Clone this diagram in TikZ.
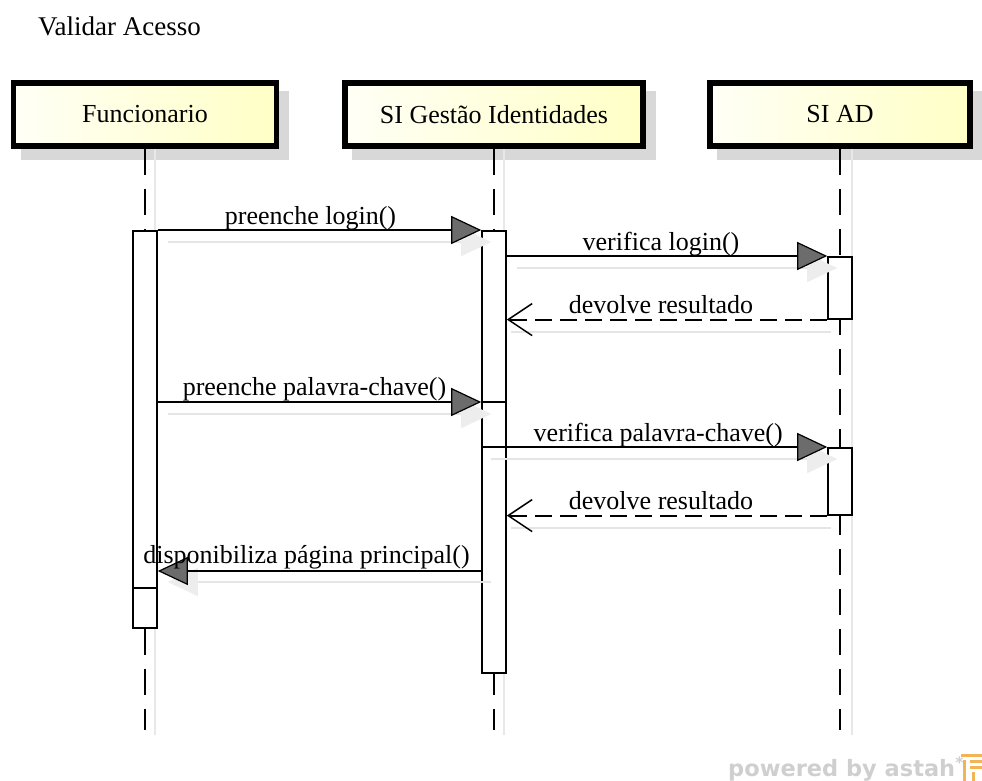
\documentclass[tikz,border=0pt]{standalone}
\usepackage{fontspec}
\setmainfont{Liberation Serif}
\newfontfamily\brandfont{DejaVu Sans}
\usetikzlibrary{arrows.meta}
\pgfdeclarelayer{bg}
\pgfsetlayers{bg,main}
\definecolor{boxleft}{HTML}{FFFFF6}
\definecolor{boxright}{HTML}{FFFFC6}
\definecolor{boxshade}{HTML}{D8D8D8}
\definecolor{tipgray}{HTML}{6C6C6C}
\definecolor{logoorange}{HTML}{F2B457}
\begin{document}
\begin{tikzpicture}[x=1pt,y=-1pt,
  font=\fontsize{26}{30}\selectfont,
  actorbox/.style={draw=black, line width=5.5pt, left color=boxleft, right color=boxright,
    minimum height=63pt, inner sep=0pt},
  lifeline/.style={line width=2pt, dash pattern=on 26pt off 14pt},
  lifeshadow/.style={draw=gray!18, line width=1.6pt},
  actbar/.style={draw=black, fill=white, line width=1.6pt, minimum width=24pt,
    inner sep=0pt, anchor=north},
  call/.style={line width=1.8pt,
    -{Triangle[length=30pt, width=28pt, fill=tipgray, line width=1.2pt]}},
  reply/.style={line width=1.8pt, dash pattern=on 17pt off 8pt,
    -{Straight Barb[length=24pt, width=32pt, line width=1.5pt]}},
  callshadow/.style={draw=gray!20, line width=1.8pt,
    -{Triangle[length=30pt, width=28pt, color=gray!14]}},
  replyshadow/.style={draw=gray!20, line width=1.8pt},
  msglbl/.style={anchor=base, yshift=6pt, inner sep=0pt}
]
\useasboundingbox (0,0) rectangle (982,781);

% title
\node[anchor=base west, inner sep=0pt, font=\fontsize{27}{31}\selectfont] (title) at (38,36) {Validar Acesso};

% lifeline heads
\node[actorbox, minimum width=263pt] (fun) at (145,114.5) {Funcionario};
\node[actorbox, minimum width=298pt] (gid) at (494,114.5) {SI Gestão Identidades};
\node[actorbox, minimum width=260pt] (sad) at (840,114.5) {SI AD};

% lifeline ends
\coordinate (funend) at (145,730);
\coordinate (gidend) at (494,730);
\coordinate (sadend) at (840,730);

\begin{pgfonlayer}{bg}
  \foreach \b in {fun,gid,sad}{
    \fill[boxshade] ([shift={(10,11)}]\b.south west) rectangle ([shift={(10,11)}]\b.north east);
  }
  \draw[lifeshadow] ([xshift=10pt]fun.south) -- ([shift={(10,5)}]funend);
  \draw[lifeshadow] ([xshift=10pt]gid.south) -- ([shift={(10,5)}]gidend);
  \draw[lifeshadow] ([xshift=12pt]sad.south) -- ([shift={(12,5)}]sadend);
  \draw[lifeline] (fun.south) -- (funend);
  \draw[lifeline] (gid.south) -- (gidend);
  \draw[lifeline] (sad.south) -- (sadend);
\end{pgfonlayer}

% activation bars
\node[actbar, minimum height=397pt] (fa) at (145,230) {};
\node[actbar, minimum height=442pt] (ga) at (494,230) {};
\node[actbar, minimum height=62pt] (aa1) at (840,256) {};
\node[actbar, minimum height=67pt] (aa2) at (840,447) {};

% rows of the second request and the final reply
\coordinate (pw) at (494,402);
\coordinate (dp) at (494,571);
\coordinate (fsplit) at (145,588);

% split lines inside the activation bars
\draw[line width=1.6pt] (ga.west |- pw) -- (ga.east |- pw);
\draw[line width=1.6pt] (fa.west |- fsplit) -- (fa.east |- fsplit);

% message shadows
\draw[callshadow] ([shift={(10,12)}]fa.north east) -- ([shift={(10,12)}]ga.north west);
\draw[callshadow] ([shift={(10,12)}]ga.east |- aa1.north) -- ([shift={(10,12)}]aa1.north west);
\draw[replyshadow] ([shift={(4,12)}]aa1.south west) -- ([shift={(4,12)}]ga.east |- aa1.south);
\draw[callshadow] ([shift={(10,12)}]fa.east |- pw) -- ([shift={(10,12)}]ga.west |- pw);
\draw[callshadow] ([shift={(10,12)}]ga.west |- aa2.north) -- ([shift={(10,12)}]aa2.north west);
\draw[replyshadow] ([shift={(4,12)}]aa2.south west) -- ([shift={(4,12)}]ga.east |- aa2.south);
\draw[callshadow] ([shift={(10,11)}]ga.west |- dp) -- ([shift={(10,11)}]fa.east |- dp);

% messages
\draw[call] (fa.north east) -- (ga.north west)
  node[midway, msglbl, xshift=-9pt] {preenche login()};
\draw[call] (ga.east |- aa1.north) -- (aa1.north west)
  node[midway, msglbl, xshift=-6pt] {verifica login()};
\draw[reply] (aa1.south west) -- (ga.east |- aa1.south)
  node[midway, msglbl, xshift=-6pt] {devolve resultado};
\draw[call] (fa.east |- pw) -- (ga.west |- pw)
  node[midway, msglbl, xshift=-5pt, yshift=1pt] {preenche palavra-chave()};
\draw[call] (ga.west |- aa2.north) -- (aa2.north west)
  node[midway, msglbl, xshift=4pt] {verifica palavra-chave()};
\draw[reply] (aa2.south west) -- (ga.east |- aa2.south)
  node[midway, msglbl, xshift=-6pt] {devolve resultado};
\draw[call] (ga.west |- dp) -- (fa.east |- dp)
  node[midway, msglbl, xshift=-13pt, yshift=2pt] {disponibiliza página principal()};

% tool credit
\node[anchor=base west, inner sep=0pt, text=gray!38,
  font=\brandfont\bfseries\fontsize{22.5}{26}\selectfont] (brand) at (728,776)
  {powered by astah\textsuperscript{*}};
\begin{scope}[fill=logoorange]
  \fill (961,754) rectangle (982,757);
  \fill (963,760) rectangle (966,781);
  \fill (970,760) rectangle (982,763);
  \fill (970,766) rectangle (982,769);
  \fill (972,772) rectangle (975,781);
\end{scope}
\end{tikzpicture}
\end{document}
